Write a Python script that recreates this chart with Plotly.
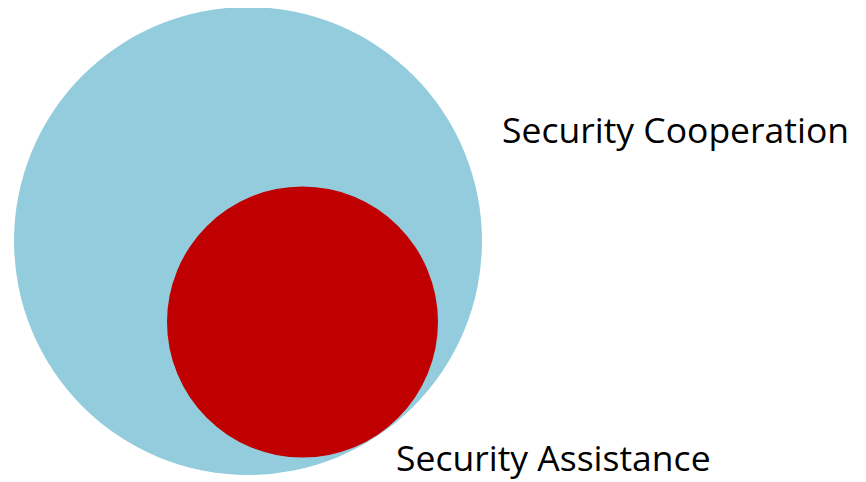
import plotly.graph_objects as go

# Venn-style nested sets
set_labels = ["Security Cooperation", "Security Assistance"]
set_colors = ["#93CDDD", "#C00000"]
centers_x = [248, 302.5]
centers_y = [241, 322]
radii = [234, 135.5]
label_x = [500, 394]
label_y = [129, 457]

W, H = 866, 482
OFF = 8  # page body margin
fig = go.Figure()
fig.add_trace(go.Scatter(x=[0, W], y=[0, H], mode="markers",
                         marker=dict(opacity=0), hoverinfo="skip", showlegend=False))

for cx, cy, r, col in zip(centers_x, centers_y, radii, set_colors):
    fig.add_shape(type="circle", xref="x", yref="y",
                  x0=cx - r, x1=cx + r, y0=cy - r, y1=cy + r,
                  fillcolor=col, line=dict(width=0), layer="below")

for lab, lx, ly in zip(set_labels, label_x, label_y):
    fig.add_annotation(x=lx, y=ly, xref="x", yref="y", text=lab, showarrow=False,
                       xanchor="left", yanchor="middle",
                       font=dict(family="Open Sans", size=35.5, color="#000000"))

fig.update_layout(
    width=W, height=H, margin=dict(l=0, r=0, t=0, b=0),
    paper_bgcolor="white", plot_bgcolor="white",
    xaxis=dict(range=[OFF, W + OFF], visible=False, fixedrange=True),
    yaxis=dict(range=[H + OFF, OFF], visible=False, fixedrange=True),
    showlegend=False,
)
fig.write_html("out.html")
